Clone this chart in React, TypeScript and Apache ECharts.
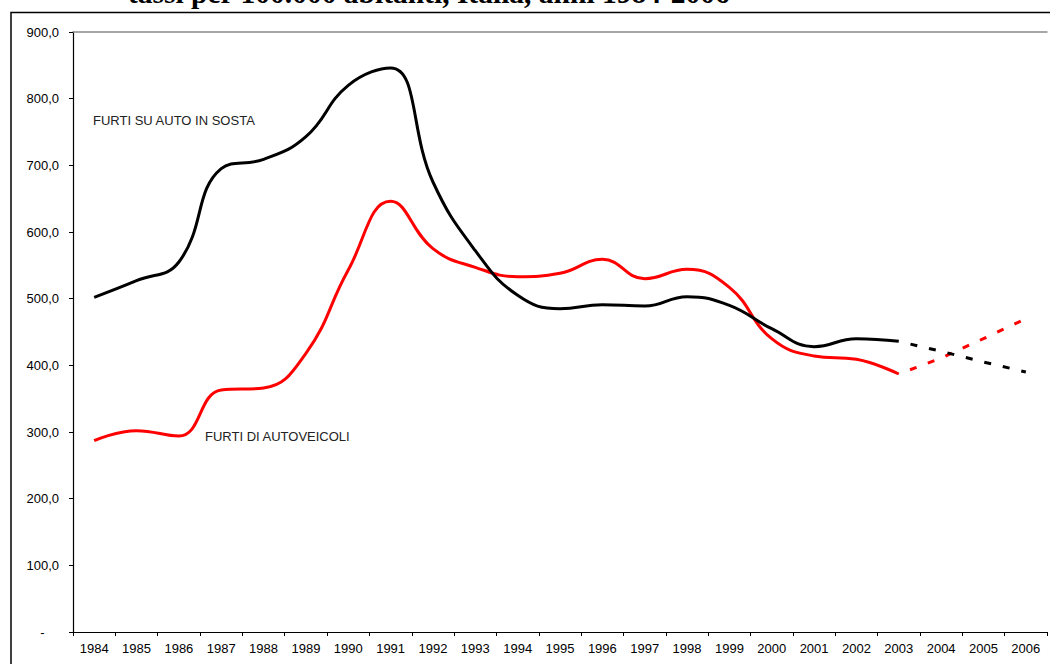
import React, { useEffect, useRef } from 'react';
import * as echarts from 'echarts';

const years = ['1984','1985','1986','1987','1988','1989','1990','1991','1992','1993','1994','1995','1996','1997','1998','1999','2000','2001','2002','2003','2004','2005','2006'];

// FURTI SU AUTO IN SOSTA (observed, 1984-2003)
const sostaObserved = [502, 527, 555, 695, 709, 743, 820, 846, 675, 572, 505, 485, 491, 489, 503, 490, 455, 428, 440, 436, null, null, null];
// FURTI SU AUTO IN SOSTA (projection, 2003-2006)
const sostaProjection = [null, null, null, null, null, null, null, null, null, null, null, null, null, null, null, null, null, null, null, 436, 421, 405, 390];

// FURTI DI AUTOVEICOLI (observed, 1984-2003)
const autoveicoliObserved = [287, 302, 294, 363, 366, 418, 543, 646, 575, 547, 533, 538, 559, 530, 544, 517, 440, 414, 409, 387, null, null, null];
// FURTI DI AUTOVEICOLI (projection, 2003-2006)
const autoveicoliProjection = [null, null, null, null, null, null, null, null, null, null, null, null, null, null, null, null, null, null, null, 387, 411, 440, 470];

const titleText = 'tassi per 100.000 abitanti, Italia, anni 1984-2006';
const labelSosta = 'FURTI SU AUTO IN SOSTA';
const labelAutoveicoli = 'FURTI DI AUTOVEICOLI';

const SANS = '"Liberation Sans", Arial, sans-serif';
const SERIF = '"Liberation Serif", "Times New Roman", serif';

export default function App() {
  const ref = useRef<HTMLDivElement>(null);

  useEffect(() => {
    if (!ref.current) return;
    const chart = echarts.init(ref.current, undefined, { renderer: 'svg' });
    chart.setOption({
      animation: false,
      backgroundColor: '#ffffff',
      grid: { left: 73, right: 3, top: 32, bottom: 32, containLabel: false },
      xAxis: [
        {
          type: 'category',
          data: years,
          boundaryGap: true,
          position: 'bottom',
          axisLine: { show: true, onZero: false, lineStyle: { color: '#000', width: 1.2 } },
          axisTick: { show: true, inside: false, length: 4, lineStyle: { color: '#000', width: 1 } },
          axisLabel: { color: '#000', fontSize: 13, fontFamily: SANS, margin: 10, interval: 0 },
          splitLine: { show: false },
        },
        {
          type: 'category',
          data: years,
          position: 'top',
          axisLine: { show: true, onZero: false, lineStyle: { color: '#8a8a8a', width: 1.5 } },
          axisTick: { show: false },
          axisLabel: { show: false },
          splitLine: { show: false },
        },
      ],
      yAxis: {
        type: 'value',
        min: 0,
        max: 900,
        interval: 100,
        axisLine: { show: true, lineStyle: { color: '#000', width: 1.2 } },
        axisTick: { show: true, inside: false, length: 4, lineStyle: { color: '#000', width: 1 } },
        axisLabel: {
          color: '#000',
          fontSize: 13,
          fontFamily: SANS,
          margin: 14,
          formatter: (v: number) => (v === 0 ? '-\u00a0\u00a0\u00a0\u00a0' : v.toFixed(1).replace('.', ',')),
        },
        splitLine: { show: false },
      },
      series: [
        {
          name: labelAutoveicoli,
          type: 'line',
          data: autoveicoliObserved,
          smooth: 0.45,
          symbol: 'none',
          connectNulls: false,
          lineStyle: { color: '#ff0000', width: 3 },
          z: 2,
        },
        {
          name: labelSosta,
          type: 'line',
          data: sostaObserved,
          smooth: 0.45,
          symbol: 'none',
          connectNulls: false,
          lineStyle: { color: '#000000', width: 3 },
          z: 3,
        },
        {
          name: labelAutoveicoli + ' (proiezione)',
          type: 'line',
          data: autoveicoliProjection,
          smooth: false,
          symbol: 'none',
          lineStyle: { color: '#ff0000', width: 3, type: [7, 12], dashOffset: -12 },
          z: 2,
        },
        {
          name: labelSosta + ' (proiezione)',
          type: 'line',
          data: sostaProjection,
          smooth: false,
          symbol: 'none',
          lineStyle: { color: '#000000', width: 3, type: [7, 12], dashOffset: -12 },
          z: 3,
        },
      ],
      graphic: [
        {
          type: 'rect',
          silent: true,
          z: -10,
          shape: { x: 11, y: 12.5, width: 1200, height: 800 },
          style: { fill: 'none', stroke: '#000', lineWidth: 1.5 },
        },
        {
          type: 'text',
          silent: true,
          x: 128,
          y: -7,
          style: {
            text: titleText,
            fill: '#000',
            font: `bold 29.5px ${SERIF}`,
            textAlign: 'left',
            textVerticalAlign: 'middle',
          },
        },
        {
          type: 'text',
          silent: true,
          x: 93,
          y: 120,
          style: {
            text: labelSosta,
            fill: '#222',
            font: `13px ${SANS}`,
            textAlign: 'left',
            textVerticalAlign: 'middle',
          },
        },
        {
          type: 'text',
          silent: true,
          x: 205,
          y: 436,
          style: {
            text: labelAutoveicoli,
            fill: '#222',
            font: `13px ${SANS}`,
            textAlign: 'left',
            textVerticalAlign: 'middle',
          },
        },
      ],
    });
    return () => chart.dispose();
  }, []);

  return (
    <div
      ref={ref}
      style={{ position: 'absolute', left: 0, top: 0, width: 1050, height: 664 }}
    />
  );
}
